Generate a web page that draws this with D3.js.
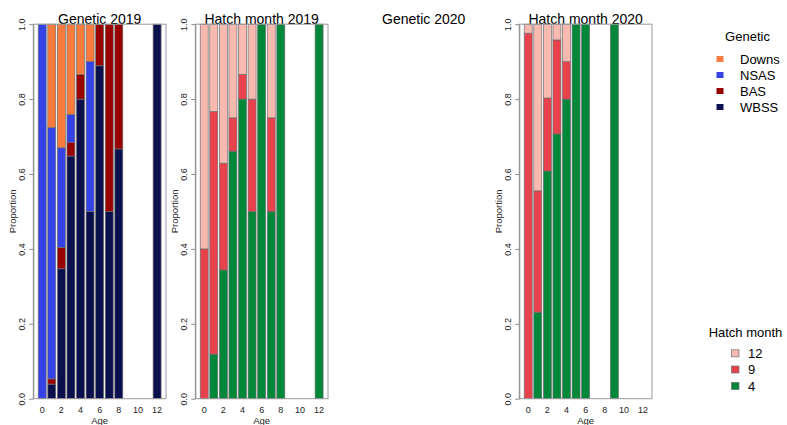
<!DOCTYPE html>
<html>
<head>
<meta charset="utf-8">
<script src="https://cdnjs.cloudflare.com/ajax/libs/d3/7.8.5/d3.min.js"></script>
<style>
  body { margin: 0; background: #fff; }
  svg { font-family: Arial, "Liberation Sans", Helvetica, sans-serif; }
  .tick-label { font-size: 9px; fill: #222; }
  .axis-title { font-size: 9.5px; fill: #222; }
  .panel-title { font-size: 14px; fill: #000; }
  .legend-title, .legend-label { font-size: 13px; fill: #000; }
</style>
</head>
<body>
<div id="chart"></div>
<script>
// ages on the x axis (9, 10, 11 have no fish)
var ages = [0, 1, 2, 3, 4, 5, 6, 7, 8, 9, 10, 11, 12];
var ageTicks = [0, 2, 4, 6, 8, 10, 12];
var propTicks = [0, 0.2, 0.4, 0.6, 0.8, 1];

// genetic assignment 2019, proportions by age (stacked bottom -> top)
var geneticKeys = ['WBSS', 'BAS', 'NSAS', 'Downs'];
var gen2019WBSS  = [0, 0.039, 0.347, 0.648, 0.800, 0.500, 0.889, 0.500, 0.667, null, null, null, 1];
var gen2019BAS   = [0, 0.014, 0.057, 0.037, 0.066, 0,     0.111, 0.500, 0.333, null, null, null, 0];
var gen2019NSAS  = [1, 0.671, 0.266, 0.074, 0,     0.400, 0,     0,     0,     null, null, null, 0];
var gen2019Downs = [0, 0.276, 0.330, 0.241, 0.134, 0.100, 0,     0,     0,     null, null, null, 0];

// hatch month 2019 (4 = spring, 9 = autumn, 12 = winter)
var hatchKeys = ['4', '9', '12'];
var hatch2019m4  = [0,     0.119, 0.344, 0.661, 0.800, 0.500, 1, 0.500, 1, null, null, null, 1];
var hatch2019m9  = [0.400, 0.648, 0.285, 0.089, 0.066, 0.300, 0, 0.250, 0, null, null, null, 0];
var hatch2019m12 = [0.600, 0.233, 0.371, 0.250, 0.134, 0.200, 0, 0.250, 0, null, null, null, 0];

// hatch month 2020
var hatch2020m4  = [0,     0.231, 0.608, 0.707, 0.800, 1, 1, null, null, 1, null, null, null];
var hatch2020m9  = [0.976, 0.324, 0.195, 0.251, 0.100, 0, 0, null, null, 0, null, null, null];
var hatch2020m12 = [0.024, 0.445, 0.197, 0.042, 0.100, 0, 0, null, null, 0, null, null, null];

var geneticColors = { 'Downs': '#fb7b3c', 'NSAS': '#3542e8', 'BAS': '#990000', 'WBSS': '#0a104e' };
var hatchColors = { '12': '#f8bab0', '9': '#e8424d', '4': '#00883a' };

var width = 787, height = 425;
var plotW = 132.7;
var plotTop = 24.2, plotBottom = 398.7;
var panelLefts = [33.3, 195.3, 357.3, 519.3];

var svg = d3.select('#chart').append('svg')
  .attr('width', width)
  .attr('height', height);

var y = d3.scaleLinear().domain([0, 1]).range([plotBottom, plotTop]);

function buildRows(keys, cols) {
  var rows = [];
  ages.forEach(function(a, i) {
    if (cols[0][i] === null) return;
    var row = { age: a };
    keys.forEach(function(k, j) { row[k] = cols[j][i]; });
    rows.push(row);
  });
  return rows;
}

function drawPanel(left, title, keys, cols, colors) {
  var g = svg.append('g');

  g.append('text')
    .attr('class', 'panel-title')
    .attr('x', left + plotW / 2)
    .attr('y', 23.5)
    .attr('text-anchor', 'middle')
    .text(title);

  if (!cols) return; // empty panel, only the title

  var x = d3.scaleLinear().domain([-0.93, 12.93]).range([left, left + plotW]);
  var barW = (x(1) - x(0)) / 1.2;

  var rows = buildRows(keys, cols);
  var stacked = d3.stack().keys(keys)(rows);

  g.selectAll('.layer')
    .data(stacked)
    .enter().append('g')
      .attr('class', 'layer')
      .attr('fill', function(d) { return colors[d.key]; })
    .selectAll('rect')
    .data(function(d) { return d.filter(function(s) { return s[1] - s[0] > 0; }); })
    .enter().append('rect')
      .attr('x', function(d) { return x(d.data.age) - barW / 2; })
      .attr('y', function(d) { return y(d[1]); })
      .attr('width', barW)
      .attr('height', function(d) { return y(d[0]) - y(d[1]); })
      .attr('stroke', '#6e6e6e')
      .attr('stroke-width', 0.7);

  // plot box
  g.append('rect')
    .attr('x', left)
    .attr('y', plotTop)
    .attr('width', plotW)
    .attr('height', plotBottom - plotTop)
    .attr('fill', 'none')
    .attr('stroke', '#9a9a9a')
    .attr('stroke-width', 1);

  // y axis
  var yAxis = d3.axisLeft(y)
    .tickValues(propTicks)
    .tickSize(4)
    .tickSizeOuter(0)
    .tickFormat(d3.format('.1f'));

  var ya = g.append('g')
    .attr('transform', 'translate(' + left + ',0)')
    .call(yAxis);
  ya.select('.domain').attr('stroke', '#8a8a8a');
  ya.selectAll('.tick line').attr('stroke', '#8a8a8a');
  ya.selectAll('.tick text')
    .attr('class', 'tick-label')
    .attr('font-size', null)
    .attr('font-family', null)
    .attr('x', 0)
    .attr('dy', 0)
    .attr('text-anchor', 'middle')
    .attr('transform', 'translate(-8,0) rotate(-90)');

  g.append('text')
    .attr('class', 'axis-title')
    .attr('text-anchor', 'middle')
    .attr('transform', 'translate(' + (left - 17) + ',' + ((plotTop + plotBottom) / 2) + ') rotate(-90)')
    .text('Proportion');

  // x labels, no tick marks
  g.selectAll('.xlab')
    .data(ageTicks)
    .enter().append('text')
      .attr('class', 'tick-label')
      .attr('x', function(d) { return x(d); })
      .attr('y', 412.5)
      .attr('text-anchor', 'middle')
      .text(function(d) { return d; });

  g.append('text')
    .attr('class', 'axis-title')
    .attr('x', left + plotW / 2)
    .attr('y', 423.5)
    .attr('text-anchor', 'middle')
    .text('Age');
}

drawPanel(panelLefts[0], 'Genetic 2019', geneticKeys,
  [gen2019WBSS, gen2019BAS, gen2019NSAS, gen2019Downs], geneticColors);
drawPanel(panelLefts[1], 'Hatch month 2019', hatchKeys,
  [hatch2019m4, hatch2019m9, hatch2019m12], hatchColors);
drawPanel(panelLefts[2], 'Genetic 2020', geneticKeys, null, geneticColors);
drawPanel(panelLefts[3], 'Hatch month 2020', hatchKeys,
  [hatch2020m4, hatch2020m9, hatch2020m12], hatchColors);

// legends
function drawLegend(title, titleX, titleY, items, colors, boxX, labelX, rowY, boxSize, border) {
  var lg = svg.append('g');
  lg.append('text')
    .attr('class', 'legend-title')
    .attr('x', titleX)
    .attr('y', titleY)
    .attr('text-anchor', 'middle')
    .text(title);
  items.forEach(function(it, i) {
    var cy = rowY[i];
    lg.append('rect')
      .attr('x', boxX)
      .attr('y', cy - boxSize[1] / 2)
      .attr('width', boxSize[0])
      .attr('height', boxSize[1])
      .attr('fill', colors[it])
      .attr('stroke', border ? '#6e6e6e' : 'none')
      .attr('stroke-width', 0.7);
    lg.append('text')
      .attr('class', 'legend-label')
      .attr('x', labelX)
      .attr('y', cy + 4.5)
      .text(it);
  });
}

drawLegend('Genetic', 747.5, 40.5, ['Downs', 'NSAS', 'BAS', 'WBSS'], geneticColors,
  716.5, 740, [59, 75, 91, 107], [7, 6], false);
drawLegend('Hatch month', 745.5, 337, ['12', '9', '4'], hatchColors,
  731.5, 748, [353.3, 369.5, 386], [7.5, 7], true);
</script>
</body>
</html>
